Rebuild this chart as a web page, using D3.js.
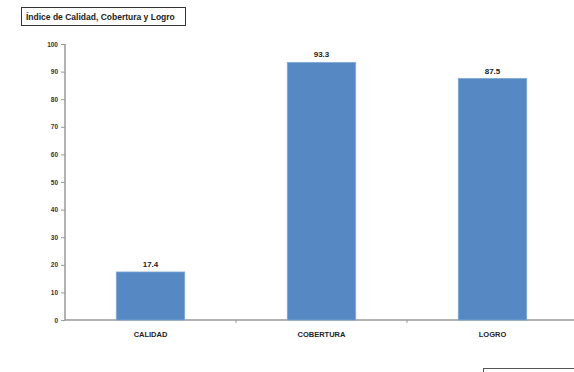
<!DOCTYPE html>
<html><head><meta charset="utf-8">
<script src="https://cdn.jsdelivr.net/npm/d3@7"></script>
<style>body{margin:0;background:#fff}svg{display:block}</style>
</head><body>
<svg id="c" width="574" height="372"></svg>
<script>
const categories = ["CALIDAD", "COBERTURA", "LOGRO"];
const values = [17.4, 93.3, 87.5];
const yTicks = [0, 10, 20, 30, 40, 50, 60, 70, 80, 90, 100];
const title = "Índice de Calidad, Cobertura y Logro";

const svg = d3.select("#c");
const font = "'Liberation Sans', Arial, sans-serif";
const x = d3.scaleBand().domain(categories).range([65, 578]).paddingInner(0.6).paddingOuter(0.3);
const y = d3.scaleLinear().domain([0, 100]).range([320, 44]);

// title box
svg.append("rect").attr("x", 21.5).attr("y", 7.5).attr("width", 164).attr("height", 18)
  .attr("fill", "#fff").attr("stroke", "#333").attr("stroke-width", 1);
svg.append("text").attr("x", 26).attr("y", 19.5).text(title)
  .attr("font-family", font).attr("font-size", 8.5).attr("font-weight", "bold").attr("fill", "#222");

// bottom-right box
svg.append("rect").attr("x", 483.5).attr("y", 368.5).attr("width", 120).attr("height", 20)
  .attr("fill", "#fff").attr("stroke", "#555");

// y axis
const ya = svg.append("g").attr("transform", "translate(65,0)")
  .call(d3.axisLeft(y).tickValues(yTicks).tickSize(4).tickPadding(3).tickFormat(d3.format("d")));
ya.select(".domain").attr("stroke", "#999").attr("stroke-width", 1.5).attr("d", "M0,44V320");
ya.selectAll(".tick line").attr("stroke", "#999");
ya.selectAll("text").attr("font-family", font).attr("font-size", 6.5).attr("font-weight", "bold").attr("fill", "#333");

// x axis
const xa = svg.append("g").attr("transform", "translate(0,320)");
xa.append("line").attr("x1", 65).attr("x2", 574).attr("y1", 0).attr("y2", 0).attr("stroke", "#999").attr("stroke-width", 1.5);
const step = x.step();
const bounds = categories.map((c, i) => x(c) - step * x.paddingInner() / 2 + step);
xa.selectAll("line.t").data(bounds.slice(0, 2)).join("line").attr("class", "t")
  .attr("x1", d => d).attr("x2", d => d).attr("y1", 0).attr("y2", 3).attr("stroke", "#999");
xa.selectAll("text").data(categories).join("text")
  .attr("x", d => x(d) + x.bandwidth() / 2).attr("y", 17)
  .attr("text-anchor", "middle").text(d => d)
  .attr("font-family", font).attr("font-size", 7.5).attr("font-weight", "bold").attr("fill", "#222");

// bars
svg.selectAll("rect.bar").data(values).join("rect").attr("class", "bar")
  .attr("x", (d, i) => x(categories[i])).attr("width", x.bandwidth())
  .attr("y", d => y(d)).attr("height", d => y(0) - y(d))
  .attr("fill", "#5689C4").attr("stroke", "#7ea6d6").attr("stroke-width", 0.8);

svg.selectAll("text.v").data(values).join("text").attr("class", "v")
  .attr("x", (d, i) => x(categories[i]) + x.bandwidth() / 2).attr("y", d => y(d) - 5)
  .attr("text-anchor", "middle").text(d => d.toFixed(1))
  .attr("font-family", font).attr("font-size", 8).attr("font-weight", "bold").attr("fill", "#222");
</script>
</body></html>
